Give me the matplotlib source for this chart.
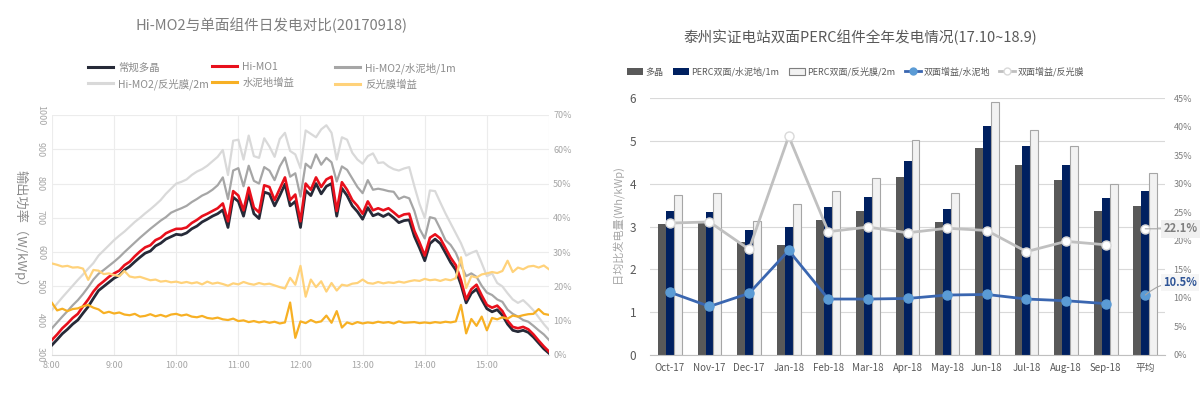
import numpy as np
import pandas as pd
import matplotlib
matplotlib.use('Agg')
import matplotlib.pyplot as plt
from matplotlib.lines import Line2D
from matplotlib.patches import Patch
from matplotlib.ticker import FuncFormatter

plt.rcParams['font.family'] = ['Noto Sans CJK SC', 'DejaVu Sans']

# ---------------- Left chart data (5-min samples, 2017-09-18 8:00-16:00) ----------------
times = pd.date_range('2017-09-18 08:00', '2017-09-18 16:00', freq='5min')

poly_power = [329, 345, 362, 375, 390, 402, 422, 441, 465, 488, 500, 512, 524, 532, 548, 558, 572, 585, 597, 603, 618, 626, 638, 645, 652,
              650, 656, 668, 676, 688, 696, 705, 712, 723, 672, 760, 748, 705, 770, 712, 698, 775, 770, 735, 765, 798, 735, 748, 672,
              780, 765, 800, 770, 792, 800, 705, 786, 765, 735, 718, 696, 730, 706, 712, 704, 712, 700, 686, 692, 694, 646, 612, 575,
              625, 638, 625, 598, 570, 548, 505, 452, 480, 492, 462, 435, 426, 432, 416, 390, 372, 368, 372, 366, 352, 335, 318, 305]

himo1_power = [344, 360, 378, 392, 408, 420, 442, 462, 485, 503, 515, 528, 538, 546, 562, 572, 588, 602, 614, 620, 635, 642, 655, 662, 668,
               668, 672, 685, 694, 705, 712, 720, 728, 742, 690, 778, 765, 722, 788, 730, 716, 795, 790, 752, 785, 818, 752, 768, 690,
               800, 782, 818, 790, 812, 820, 720, 804, 782, 752, 735, 712, 748, 722, 728, 722, 728, 716, 703, 710, 712, 662, 628, 590,
               642, 652, 640, 612, 584, 562, 518, 462, 492, 505, 474, 446, 438, 444, 428, 400, 382, 378, 382, 375, 360, 342, 325, 310]

himo2_cement_power = [378, 395, 412, 428, 445, 460, 478, 498, 520, 537, 548, 560, 572, 585, 600, 614, 628, 642, 655, 668, 680, 692, 702, 715, 722,
                      728, 735, 746, 755, 765, 772, 782, 795, 818, 755, 838, 845, 792, 852, 808, 800, 848, 838, 810, 850, 876, 820, 830, 762,
                      858, 845, 885, 855, 875, 862, 806, 850, 840, 815, 790, 772, 810, 782, 785, 782, 778, 776, 755, 762, 757, 720, 668, 640,
                      702, 698, 668, 635, 621, 598, 562, 530, 538, 528, 502, 482, 475, 462, 455, 432, 420, 412, 402, 397, 385, 372, 360, 344]

himo2_film_power = [431, 450, 468, 485, 502, 519, 535, 552, 568, 590, 605, 620, 635, 648, 660, 674, 688, 700, 713, 725, 738, 752, 770, 785, 800,
                    805, 812, 825, 835, 842, 852, 865, 878, 898, 825, 925, 928, 870, 940, 880, 875, 932, 908, 878, 930, 948, 895, 885, 845,
                    955, 945, 935, 958, 970, 948, 870, 935, 928, 890, 870, 858, 880, 888, 860, 862, 850, 842, 838, 844, 848, 792, 740, 700,
                    780, 778, 745, 713, 684, 655, 626, 590, 598, 604, 568, 530, 538, 510, 500, 480, 462, 452, 460, 446, 430, 410, 390, 373]

cement_gain = [15.2, 13.0, 13.5, 12.8, 13.4, 13.6, 14.2, 14.6, 13.8, 13.3, 12.2, 12.6, 12.1, 12.4, 11.8, 11.6, 12.0, 11.2, 11.4, 11.9, 11.3, 11.7, 11.2, 11.8, 12.0,
               11.5, 11.8, 11.2, 11.0, 11.4, 10.8, 10.6, 10.9, 10.4, 10.2, 10.6, 9.9, 10.1, 9.6, 9.9, 9.5, 9.8, 9.4, 9.7, 9.2, 9.5, 15.3, 5.0, 9.8,
               9.3, 10.2, 9.5, 9.8, 11.5, 9.4, 12.8, 8.0, 9.5, 9.0, 9.6, 9.2, 9.5, 9.3, 9.7, 9.4, 9.6, 9.2, 9.8, 9.4, 9.5, 9.6, 9.3, 9.5,
               9.3, 9.6, 9.4, 9.7, 9.5, 9.8, 14.6, 6.3, 10.5, 8.5, 11.2, 7.2, 10.8, 10.4, 11.0, 10.6, 11.5, 11.2, 11.6, 11.9, 12.0, 13.4, 12.0, 11.7]

film_gain = [26.7, 26.3, 25.8, 26.0, 25.5, 25.6, 25.2, 21.9, 24.8, 24.6, 23.6, 23.8, 23.3, 23.0, 24.5, 22.9, 22.6, 22.8, 22.3, 21.8, 22.0, 21.4, 21.6, 21.2, 21.4,
             21.0, 21.3, 20.9, 21.2, 20.6, 21.4, 20.8, 21.1, 20.7, 20.2, 20.9, 20.6, 21.3, 20.8, 20.5, 21.0, 20.6, 20.8, 20.3, 19.8, 19.4, 22.5, 20.5, 26.0,
             17.0, 22.0, 19.8, 21.5, 18.5, 21.0, 18.8, 20.5, 20.2, 20.8, 21.0, 22.0, 21.0, 20.8, 21.3, 20.9, 21.2, 21.0, 21.4, 21.1, 21.5, 21.8, 21.6, 22.2,
             21.8, 22.0, 21.6, 22.1, 21.8, 22.4, 28.5, 19.5, 23.0, 22.6, 23.5, 23.8, 24.2, 23.9, 24.5, 27.5, 24.2, 25.5, 25.0, 25.8, 26.0, 25.5, 26.1, 25.0]

left_series_labels = ['常规多晶', 'Hi-MO1', 'Hi-MO2/水泥地/1m', 'Hi-MO2/反光膜/2m', '水泥地增益', '反光膜增益']
left_title = 'Hi-MO2与单面组件日发电对比(20170918)'

# ---------------- Right chart data ----------------
months = ['Oct-17', 'Nov-17', 'Dec-17', 'Jan-18', 'Feb-18', 'Mar-18', 'Apr-18',
          'May-18', 'Jun-18', 'Jul-18', 'Aug-18', 'Sep-18', '平均']
poly_daily = [3.06, 3.08, 2.63, 2.56, 3.16, 3.37, 4.15, 3.10, 4.83, 4.44, 4.08, 3.37, 3.48]
perc_cement_daily = [3.37, 3.33, 2.91, 3.00, 3.46, 3.70, 4.54, 3.42, 5.34, 4.89, 4.44, 3.66, 3.83]
perc_film_daily = [3.74, 3.79, 3.12, 3.52, 3.84, 4.14, 5.03, 3.78, 5.91, 5.25, 4.87, 4.00, 4.25]
gain_cement_monthly = [11.0, 8.5, 10.8, 18.3, 9.8, 9.8, 9.9, 10.5, 10.6, 9.8, 9.5, 9.0]
gain_film_monthly = [23.1, 23.3, 18.5, 38.3, 21.6, 22.4, 21.4, 22.2, 21.8, 18.1, 19.9, 19.3]
gain_cement_avg = 10.5
gain_film_avg = 22.1
right_labels = ['多晶', 'PERC双面/水泥地/1m', 'PERC双面/反光膜/2m', '双面增益/水泥地', '双面增益/反光膜']
right_title = '泰州实证电站双面PERC组件全年发电情况(17.10~18.9)'

# ---------------- Figure ----------------
fig = plt.figure(figsize=(12, 3.93), dpi=100)

# ===== Left chart =====
c_poly, c_mo1, c_cem, c_film = '#262a38', '#e8101c', '#a6a6a6', '#d9d9d9'
c_gcem, c_gfilm = '#f7b024', '#ffd27a'

axL = fig.add_axes([0.0433, 0.0967, 0.4142, 0.6107])
axL2 = axL.twinx()
axL.plot(times, himo2_film_power, color=c_film, lw=1.6, zorder=2)
axL.plot(times, himo2_cement_power, color=c_cem, lw=1.6, zorder=3)
axL.plot(times, poly_power, color=c_poly, lw=2.0, zorder=4)
axL.plot(times, himo1_power, color=c_mo1, lw=1.9, zorder=5)
axL2.plot(times, film_gain, color=c_gfilm, lw=1.6)
axL2.plot(times, cement_gain, color=c_gcem, lw=1.6)

axL.set_xlim(pd.Timestamp('2017-09-18 08:00'), pd.Timestamp('2017-09-18 16:00'))
axL.set_ylim(300, 1000)
axL.set_yticks(range(300, 1001, 100))
hour_ticks = pd.date_range('2017-09-18 08:00', '2017-09-18 16:00', freq='h')
axL.set_xticks(hour_ticks)
axL.set_xticklabels([f'{t.hour}:{t.minute:02d}' if t.hour < 16 else '' for t in hour_ticks])
axL.grid(True, color='#ececec', lw=0.8)
axL.set_axisbelow(True)
axL.tick_params(axis='both', length=0, labelsize=6.5, labelcolor='#a6a6a6')
axL.tick_params(axis='y', labelrotation=-90, pad=5)
for lbl in axL.get_yticklabels():
    lbl.set_va('center')
axL.tick_params(axis='x', pad=4)
for s in ['top', 'right', 'left']:
    axL.spines[s].set_visible(False)
axL.spines['bottom'].set_color('#d9d9d9')

axL2.set_ylim(0, 70)
axL2.set_yticks(range(0, 71, 10))
axL2.yaxis.set_major_formatter(FuncFormatter(lambda v, p: f'{v:.0f}%'))
axL2.tick_params(axis='y', length=0, labelsize=6.5, labelcolor='#a6a6a6', pad=3)
for s in axL2.spines.values():
    s.set_visible(False)

fig.text(0.226, 0.936, left_title, ha='center', va='center', fontsize=10.5, color='#7f7f7f')
fig.text(0.017, 0.41, '输出功率（W/kWp）', rotation=-90, ha='center', va='center', fontsize=9.5, color='#8c8c8c')

left_handles = [Line2D([], [], color=c, lw=2.2) for c in [c_poly, c_mo1, c_cem, c_film, c_gcem, c_gfilm]]
col_x = [88 / 1200, 212 / 1200, 335 / 1200]
for i, xx in enumerate(col_x):
    hs = [left_handles[i], left_handles[i + 3]]
    ls = [left_series_labels[i], left_series_labels[i + 3]]
    fig.legend(hs, ls, loc='upper left', bbox_to_anchor=(xx, 0.842), frameon=False,
               fontsize=7.5, labelcolor='#8c8c8c', handlelength=2.4, handletextpad=0.5,
               labelspacing=0.55, borderpad=0, borderaxespad=0)

# ===== Right chart =====
c_bpoly, c_bcem, c_bfilm = '#595959', '#002060', '#f2f2f2'
c_lcem, c_lcem_m, c_lfilm = '#3a66b0', '#5b9bd5', '#c0c0c0'

axR = fig.add_axes([0.5417, 0.0967, 0.4292, 0.6539])
x = np.arange(len(months))
w = 0.2
axR.bar(x - w, poly_daily, w, color=c_bpoly, zorder=2)
axR.bar(x, perc_cement_daily, w, color=c_bcem, zorder=2)
axR.bar(x + w, perc_film_daily, w, color=c_bfilm, edgecolor='#a6a6a6', linewidth=0.8, zorder=2)
axR.set_xlim(-0.5, len(months) - 0.5)
axR.set_ylim(0, 6)
axR.set_yticks(range(0, 7))
axR.set_xticks(x)
axR.set_xticklabels(months)
axR.grid(True, axis='y', color='#d9d9d9', lw=0.8)
axR.set_axisbelow(True)
axR.tick_params(axis='both', length=0, labelcolor='#595959')
axR.tick_params(axis='x', labelsize=7, pad=6)
axR.tick_params(axis='y', labelsize=8.5, pad=10)
for s in ['top', 'right', 'left']:
    axR.spines[s].set_visible(False)
axR.spines['bottom'].set_color('#bfbfbf')

axR2 = axR.twinx()
n = len(gain_film_monthly)
axR2.plot(x[:n], gain_film_monthly, color=c_lfilm, lw=2, marker='o', ms=6.5,
          mfc='white', mec='#d9d9d9', mew=1, zorder=3)
axR2.plot([x[-1]], [gain_film_avg], ls='none', marker='o', ms=6.5, mfc='white', mec='#d9d9d9', mew=1, zorder=3)
axR2.plot(x[:n], gain_cement_monthly, color=c_lcem, lw=2, marker='o', ms=6.5,
          mfc=c_lcem_m, mec=c_lcem_m, zorder=4)
axR2.plot([x[-1]], [gain_cement_avg], ls='none', marker='o', ms=6.5, mfc=c_lcem_m, mec=c_lcem_m, zorder=4)
axR2.set_ylim(0, 45)
axR2.set_yticks(range(0, 46, 5))
axR2.yaxis.set_major_formatter(FuncFormatter(lambda v, p: f'{v:.0f}%'))
axR2.tick_params(axis='y', length=0, labelsize=6.5, labelcolor='#7f7f7f', pad=6)
for s in axR2.spines.values():
    s.set_visible(False)

axR2.annotate(f'{gain_film_avg:.1f}%', xy=(x[-1], gain_film_avg), xytext=(13, 0),
              textcoords='offset points', ha='left', va='center', fontsize=8, fontweight='bold',
              color='#7f7f7f', bbox=dict(boxstyle='square,pad=0.2', fc='#f0f0f0', ec='none'),
              arrowprops=dict(arrowstyle='-', color='#a6a6a6', lw=0.8, shrinkA=0, shrinkB=0),
              annotation_clip=False, zorder=6)
axR2.annotate(f'{gain_cement_avg:.1f}%', xy=(x[-1], gain_cement_avg), xytext=(13, 9),
              textcoords='offset points', ha='left', va='center', fontsize=8, fontweight='bold',
              color='#2f5597', bbox=dict(boxstyle='square,pad=0.2', fc='#f5f5f5', ec='none'),
              arrowprops=dict(arrowstyle='-', color='#a6a6a6', lw=0.8, shrinkA=0, shrinkB=0,
                              connectionstyle='arc3,rad=0.2'),
              annotation_clip=False, zorder=6)

fig.text(0.7167, 0.906, right_title, ha='center', va='center', fontsize=10.5, color='#595959')
fig.text(0.5145, 0.43, '日均比发电量(Wh/kWp)', rotation=90, ha='center', va='center', fontsize=8, color='#a6a6a6')

right_handles = [Patch(fc=c_bpoly, ec='none'), Patch(fc=c_bcem, ec='none'),
                 Patch(fc=c_bfilm, ec='#7f7f7f', lw=0.8),
                 Line2D([], [], color=c_lcem, lw=2, marker='o', ms=5, mfc=c_lcem_m, mec=c_lcem_m),
                 Line2D([], [], color=c_lfilm, lw=2, marker='o', ms=5, mfc='white', mec='#d9d9d9')]
fig.legend(right_handles, right_labels, loc='center', bbox_to_anchor=(0.713, 0.817), ncol=5,
           frameon=False, fontsize=6.5, labelcolor='#595959', handlelength=1.8, handleheight=0.8,
           handletextpad=0.3, columnspacing=1.0, borderpad=0)

fig.savefig('out.png', dpi=100)
